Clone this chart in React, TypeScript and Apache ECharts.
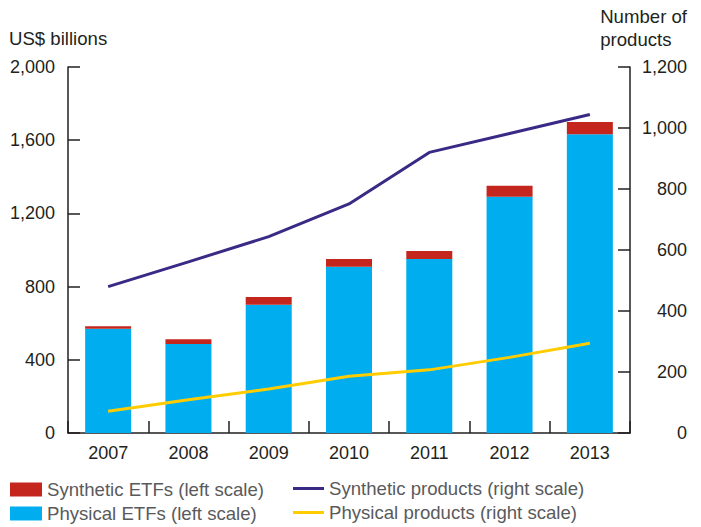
import React, { useEffect, useRef } from "react";
import * as echarts from "echarts";

const categories = ["2007", "2008", "2009", "2010", "2011", "2012", "2013"];
const physicalETFs = [570, 486, 701, 909, 951, 1291, 1632];
const syntheticETFs = [14, 26, 42, 42, 44, 60, 67];
const syntheticProducts = [480, 561, 644, 751, 920, 982, 1044];
const physicalProducts = [71, 109, 144, 186, 207, 248, 294];
const leftTicks = { min: 0, max: 2000, interval: 400 };
const rightTicks = { min: 0, max: 1200, interval: 200 };

const FONT = "'Liberation Sans', Arial, Helvetica, sans-serif";
const BLUE = "#00aeef";
const RED = "#c4261d";
const PURPLE = "#3b2a85";
const YELLOW = "#ffcc00";
const INK = "#231f20";
const GREY = "#5a5a5c";
const FS = 18;
const FS_TEXT = 18.6;

const fmt = (v: number) => v.toLocaleString("en-US");

export default function App() {
  const ref = useRef<HTMLDivElement>(null);
  useEffect(() => {
    if (!ref.current) return;
    const chart = echarts.init(ref.current, null, { renderer: "svg" });
    const axisLine = { show: true, lineStyle: { color: INK, width: 1.5 } };
    const tick = { show: true, inside: true, length: 12, lineStyle: { color: INK, width: 1.5 } };
    const legendText = { color: GREY, fontSize: FS_TEXT, fontFamily: FONT };
    const mkLegend = (name: string, left: number, top: number, line: boolean) => ({
      orient: "horizontal",
      left,
      top,
      padding: 0,
      itemWidth: line ? 31 : 32,
      itemHeight: line ? 3 : 14,
      icon: "rect",
      textStyle: legendText,
      data: [name],
      selectedMode: false,
    });
    chart.setOption({
      animation: false,
      textStyle: { fontFamily: FONT },
      grid: { left: 68, right: 71, top: 67, bottom: 94 },
      xAxis: {
        type: "category",
        data: categories,
        axisLine,
        axisTick: tick,
        axisLabel: { color: INK, fontSize: FS, fontFamily: FONT, margin: 11 },
        splitLine: { show: false },
      },
      yAxis: [
        {
          type: "value",
          min: leftTicks.min,
          max: leftTicks.max,
          interval: leftTicks.interval,
          position: "left",
          axisLine,
          axisTick: tick,
          axisLabel: { color: INK, fontSize: FS, fontFamily: FONT, margin: 13, formatter: fmt },
          splitLine: { show: false },
        },
        {
          type: "value",
          min: rightTicks.min,
          max: rightTicks.max,
          interval: rightTicks.interval,
          position: "right",
          axisLine,
          axisTick: tick,
          axisLabel: { color: INK, fontSize: FS, fontFamily: FONT, margin: 57, align: "right", formatter: fmt },
          splitLine: { show: false },
        },
      ],
      legend: [
        mkLegend("Synthetic ETFs (left scale)", 10, 480, false),
        mkLegend("Physical ETFs (left scale)", 10, 504, false),
        mkLegend("Synthetic products (right scale)", 293, 479, true),
        mkLegend("Physical products (right scale)", 293, 503, true),
      ],
      graphic: [
        {
          type: "text",
          left: 9,
          top: 29,
          style: { text: "US$ billions", fill: INK, font: `${FS_TEXT}px ${FONT}` },
        },
        {
          type: "text",
          right: 14,
          top: 5,
          style: {
            text: "Number of\nproducts",
            fill: INK,
            font: `${FS_TEXT}px ${FONT}`,
            align: "right",
            lineHeight: 23,
          },
        },
      ],
      series: [
        {
          name: "Physical ETFs (left scale)",
          type: "bar",
          stack: "etf",
          barWidth: 46,
          data: physicalETFs,
          itemStyle: { color: BLUE },
        },
        {
          name: "Synthetic ETFs (left scale)",
          type: "bar",
          stack: "etf",
          barWidth: 46,
          data: syntheticETFs,
          itemStyle: { color: RED },
        },
        {
          name: "Synthetic products (right scale)",
          type: "line",
          yAxisIndex: 1,
          data: syntheticProducts,
          symbol: "none",
          lineStyle: { color: PURPLE, width: 3 },
          itemStyle: { color: PURPLE },
          z: 5,
        },
        {
          name: "Physical products (right scale)",
          type: "line",
          yAxisIndex: 1,
          data: physicalProducts,
          symbol: "none",
          lineStyle: { color: YELLOW, width: 3 },
          itemStyle: { color: YELLOW },
          z: 5,
        },
      ],
    });
    return () => chart.dispose();
  }, []);
  return <div ref={ref} style={{ width: 701, height: 527, position: "absolute", left: 0, top: 0 }} />;
}
